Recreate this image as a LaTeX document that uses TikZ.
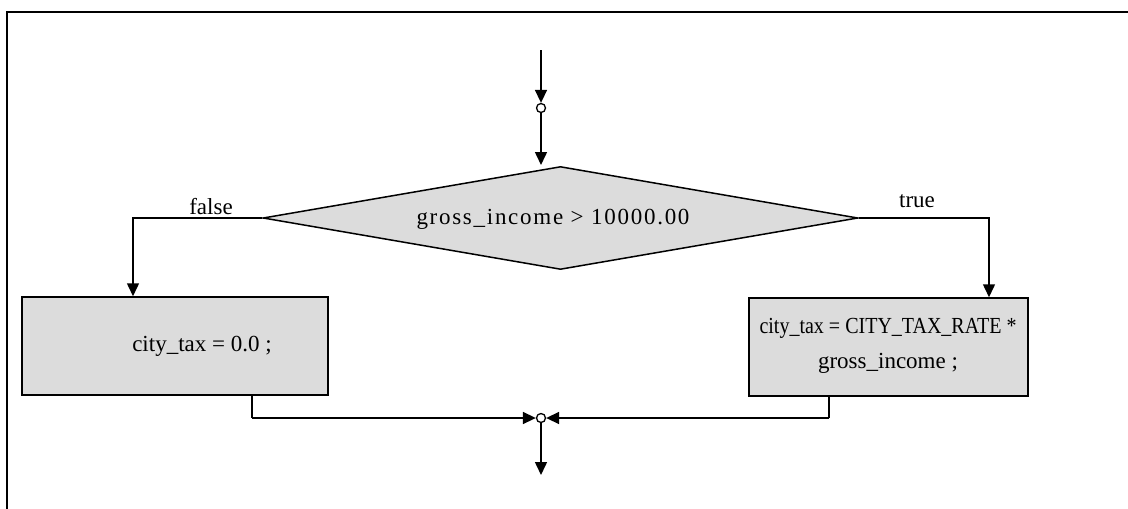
\documentclass[tikz,border=0pt]{standalone}
\usepackage{fontspec}
\setmainfont{Liberation Serif}
\usetikzlibrary{arrows.meta,shapes.geometric}
\definecolor{boxgray}{HTML}{DCDCDC}
\begin{document}
\begin{tikzpicture}[x=1pt,y=-1pt,
  line/.style={line width=1.5pt},
  flow/.style={line, -{Triangle[length=13pt,width=12pt]}},
  junction/.style={circle, draw, fill=white, line width=1.3pt, inner sep=0pt, minimum size=9pt},
  action/.style={draw, fill=boxgray, line width=1.5pt, inner sep=0pt},
  txt/.style={font=\fontsize{23}{35}\selectfont, inner sep=0pt, align=center}]
  \useasboundingbox (0,0) rectangle (1128,509);
  % outer frame
  \draw[line width=2pt] (7,509) -- (7,12) -- (1128,12);

  % entry
  \coordinate (start) at (541,50);
  \node[junction] (j1) at (541,108) {};
  \coordinate (dtop) at (541,165);

  % decision
  \node[diamond, draw, fill=boxgray, line width=1.5pt, inner sep=0pt,
        minimum width=595pt, minimum height=103pt] (d) at (560.5,218) {};
  \node[txt] (dtext) at (553,219) {\addfontfeatures{LetterSpace=7.5}gross\_income > 10000.00};

  % actions
  \node[action, minimum width=306pt, minimum height=98pt] (left) at (175,346) {};
  \node[txt] (ltext) at (202,346) {city\_tax = 0.0 ;};
  \node[action, minimum width=279pt, minimum height=98pt] (right) at (888.5,347) {};
  \node[txt] (rtext) at (888,346) {\scalebox{0.87}[1]{city\_tax = CITY\_TAX\_RATE *}\\gross\_income ;};

  % merge
  \node[junction] (j2) at (541,418) {};
  \coordinate (lout) at (252,418);
  \coordinate (rout) at (829,418);
  \coordinate (end) at (541,475);

  % connectors
  \draw[flow] (start) -- (j1);
  \draw[flow] (j1) -- (dtop);
  \draw[flow] (d.west) -| (left.north -| 133,0);
  \draw[flow] (d.east) -| (right.north -| 989,0);
  \draw[line] (left.south -| lout) -- (lout);
  \draw[flow] (lout) -- (j2);
  \draw[line] (right.south -| rout) -- (rout);
  \draw[flow] (rout) -- (j2);
  \draw[flow] (j2) -- (end);

  % branch labels
  \node[txt] (lf) at (211,207) {false};
  \node[txt] (lt) at (917,201) {true};
\end{tikzpicture}
\end{document}
